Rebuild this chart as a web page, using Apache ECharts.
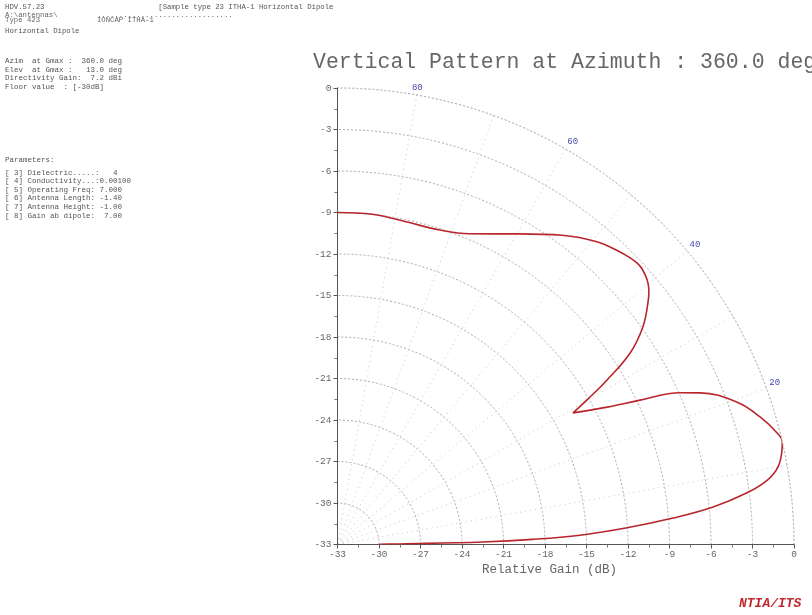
<!DOCTYPE html>
<html><head><meta charset="utf-8">
<script src="https://cdn.jsdelivr.net/npm/echarts@6/dist/echarts.min.js"></script>
<style>html,body{margin:0;padding:0;background:#fff}#c{width:812px;height:615px}</style>
</head><body><div id="c"></div>
<script>
// Elevation angle (deg) and relative gain (dB) of the vertical pattern
const elevation = [90, 84, 78, 72, 67, 60, 54, 49.4, 46, 44.5, 43.2, 42.2, 40.5, 39.2, 37.9, 35.5, 33.2, 31.4, 30.1, 29.2,
  27.0, 25.5, 23.9, 22.7, 19.6, 16.8, 14.2, 13, 12, 10, 8.5, 7.2, 5.7, 4.5, 3.3, 2.2, 1.5, 1.0, 0.5, 0.3, 0];
const gain = [-9.0, -9.0, -9.15, -9.1, -8.6, -7.07, -5.37, -4.18, -3.6, -3.4, -3.28, -3.3, -3.56, -3.95, -4.56, -5.88, -7.72, -10.17, -12.15, -13.5,
  -11.12, -8.76, -5.92, -4.59, -2.33, -1.09, -0.2, 0.0, -0.15, -0.66, -1.6, -3.16, -5.71, -8.67, -12.03, -15.45, -18.9, -22.5, -28.5, -30, -30];
const gainTicks = [-33, -30, -27, -24, -21, -18, -15, -12, -9, -6, -3, 0];
const angleLabels = [20, 40, 60, 80];
const headerLines = [
  'HDV.57.23                          [Sample type 23 ITHA-1 Horizontal Dipole',
  'Type 423             IONCAP ITHA-1',
  'Horizontal Dipole'
];
const overLine = 'A:\\antennas\\         ...............................';
const infoLines = [
  'Azim  at Gmax :  360.0 deg',
  'Elev  at Gmax :   13.0 deg',
  'Directivity Gain:  7.2 dBi',
  'Floor value  : [-30dB]'
];
const paramLines = [
  'Parameters:',
  '[ 3] Dielectric.....:   4',
  '[ 4] Conductivity...:0.00100',
  '[ 5] Operating Freq: 7.000',
  '[ 6] Antenna Length: -1.40',
  '[ 7] Antenna Height: -1.00',
  '[ 8] Gain ab dipole:  7.00'
];

const mono = 'Liberation Mono, DejaVu Sans Mono, monospace';
const CX = 337.5, CY = 544.5, R = 456.5;

const graphics = [];
function txt(x, y, s, size, color, extra) {
  graphics.push({type: 'text', left: x, top: y, silent: true,
    style: Object.assign({text: s, font: size + 'px ' + mono, fill: color}, extra || {})});
}
txt(5, 4, headerLines[0], 7.3, '#555');
txt(5, 17, headerLines[1], 7.3, '#666');
txt(5, 12, overLine, 7.3, '#666');
txt(5, 28, headerLines[2], 7.3, '#555');
infoLines.forEach((s, i) => txt(5, 57 + i * 8.7, s, 7.5, '#555'));
paramLines.forEach((s, i) => txt(5, 156 + (i > 0 ? 4 + i * 8.6 : 0), s, 7.5, '#555'));
txt(313, 51, 'Vertical Pattern at Azimuth : 360.0 deg', 21.5, '#666');
txt(482, 563, 'Relative Gain (dB)', 12.5, '#666');
txt(739, 597, 'NTIA/ITS', 13, '#c0282d', {font: 'italic bold 13px ' + mono});

const chart = echarts.init(document.getElementById('c'));
chart.setOption({
  animation: false,
  backgroundColor: '#fff',
  graphic: graphics,
  grid: {left: CX, top: CY - R, width: R, height: R, containLabel: false},
  xAxis: {type: 'value', min: gainTicks[0], max: gainTicks[gainTicks.length - 1], interval: 3,
    axisLine: {onZero: false, lineStyle: {color: '#555', width: 1}},
    axisTick: {show: true, length: 4, lineStyle: {color: '#555'}},
    minorTick: {show: true, splitNumber: 2, length: 3, lineStyle: {color: '#777'}},
    axisLabel: {color: '#666', fontFamily: mono, fontSize: 9.5, margin: 5},
    splitLine: {show: false}},
  yAxis: {type: 'value', min: gainTicks[0], max: gainTicks[gainTicks.length - 1], interval: 3,
    axisLine: {show: true, onZero: false, lineStyle: {color: '#555', width: 1}},
    axisTick: {show: true, length: 4, lineStyle: {color: '#555'}},
    minorTick: {show: true, splitNumber: 2, length: 3, lineStyle: {color: '#777'}},
    axisLabel: {color: '#666', fontFamily: mono, fontSize: 9.5, margin: 6},
    splitLine: {show: false}},
  polar: {center: [CX, CY], radius: R},
  angleAxis: {type: 'value', min: 0, max: 90, interval: 10, startAngle: 0, endAngle: 90, clockwise: false,
    axisLine: {show: true, lineStyle: {color: '#bbb', type: [1, 3]}},
    axisTick: {show: false},
    axisLabel: {color: '#4848b0', fontFamily: mono, fontSize: 9, margin: 3,
      formatter: v => angleLabels.indexOf(v) >= 0 ? String(v) : ''},
    splitLine: {show: true, lineStyle: {color: '#c8c8c8', type: [1, 4]}}},
  radiusAxis: {type: 'value', min: gainTicks[0], max: gainTicks[gainTicks.length - 1], interval: 3,
    axisLine: {show: false}, axisTick: {show: false}, axisLabel: {show: false},
    splitLine: {show: true, lineStyle: {color: '#aaa', type: [2, 2]}}},
  series: [
    {type: 'line', xAxisIndex: 0, yAxisIndex: 0, data: [], silent: true},
    {type: 'line', coordinateSystem: 'polar', smooth: 0.4, symbol: 'none', silent: true,
      data: elevation.map((a, i) => [gain[i], a]),
      lineStyle: {color: '#b8262b', width: 1.6}}
  ]
});
</script></body></html>
